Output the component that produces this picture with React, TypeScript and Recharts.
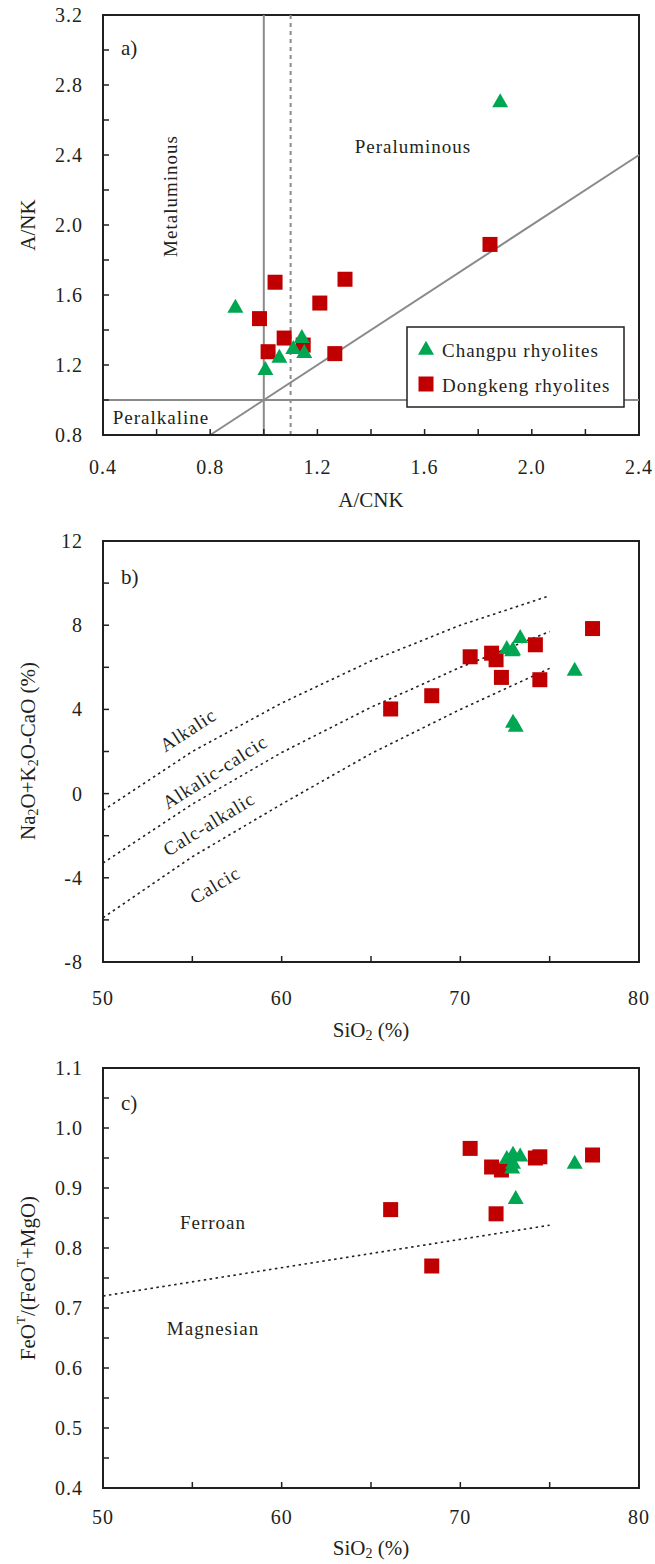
import React from 'react';
import {
  ScatterChart, Scatter, XAxis, YAxis, ReferenceLine, ReferenceArea,
} from 'recharts';

const FONT = '"Liberation Serif", "Times New Roman", serif';
const INK = '#231f20';
const GREY = '#8a8a8a';
const RED = '#c00000';
const GREEN = '#00a651';

// a) A/CNK – A/NK
const changpuACNK = [0.894, 1.006, 1.058, 1.11, 1.142, 1.151, 1.882];
const changpuANK = [1.525, 1.17, 1.24, 1.29, 1.352, 1.267, 2.7];
const dongkengACNK = [0.984, 1.016, 1.042, 1.076, 1.147, 1.209, 1.265, 1.303, 1.844];
const dongkengANK = [1.465, 1.276, 1.673, 1.354, 1.314, 1.554, 1.265, 1.69, 1.889];

// b) / c) SiO2 based diagrams
const changpuSiO2 = [72.6, 72.9, 72.95, 73.35, 76.4, 72.95, 73.1];
const changpuMALI = [6.85, 6.75, 6.8, 7.38, 5.82, 3.35, 3.16];
const changpuFe = [0.948, 0.932, 0.955, 0.952, 0.94, 0.94, 0.881];
const dongkengSiO2 = [66.1, 68.4, 70.55, 71.75, 72.0, 72.3, 74.2, 74.45, 77.4];
const dongkengMALI = [4.02, 4.65, 6.5, 6.67, 6.36, 5.52, 7.07, 5.41, 7.84];
const dongkengFe = [0.864, 0.77, 0.966, 0.935, 0.857, 0.93, 0.95, 0.952, 0.955];

// field boundaries
const maliSiO2 = [50, 55, 60, 65, 70, 75];
const alkalicLine = [-0.8, 2.0, 4.3, 6.3, 8.0, 9.4];
const alkaliCalcicLine = [-3.3, -0.5, 1.95, 4.1, 6.0, 7.7];
const calcAlkalicLine = [-5.9, -3.0, -0.5, 1.9, 4.0, 5.95];
const ferroanSiO2 = [50, 75];
const ferroanLine = [0.72, 0.838];

// axis ticks
const acnkTicks = [0.4, 0.6, 0.8, 1.0, 1.2, 1.4, 1.6, 1.8, 2.0, 2.2, 2.4];
const acnkLabels = [0.4, 0.8, 1.2, 1.6, 2.0, 2.4];
const ankTicks = [0.8, 1.0, 1.2, 1.4, 1.6, 1.8, 2.0, 2.2, 2.4, 2.6, 2.8, 3.0, 3.2];
const ankLabels = [0.8, 1.2, 1.6, 2.0, 2.4, 2.8, 3.2];
const sioTicks = [50, 55, 60, 65, 70, 75, 80];
const sioLabels = [50, 60, 70, 80];
const maliTicks = [-8, -6, -4, -2, 0, 2, 4, 6, 8, 10, 12];
const maliLabels = [-8, -4, 0, 4, 8, 12];
const feTicks = [0.4, 0.45, 0.5, 0.55, 0.6, 0.65, 0.7, 0.75, 0.8, 0.85, 0.9, 0.95, 1.0, 1.05, 1.1];
const feLabels = [0.4, 0.5, 0.6, 0.7, 0.8, 0.9, 1.0, 1.1];

const zip = (xs: number[], ys: number[]) => xs.map((x, i) => ({ x, y: ys[i] }));

const txt = { fontFamily: FONT, fill: INK };

function Square(props: any) {
  const { cx, cy } = props;
  return <rect x={cx - 7.5} y={cy - 7.5} width={15} height={15} fill={RED} />;
}

function Triangle(props: any) {
  const { cx, cy } = props;
  return (
    <polygon
      points={`${cx},${cy - 9.3} ${cx - 8},${cy + 4.7} ${cx + 8},${cy + 4.7}`}
      fill={GREEN}
    />
  );
}

const NoDot = () => <g />;

function makeTick(labels: number[], horizontal: boolean, digits: number) {
  return (props: any) => {
    const { x, y, payload } = props;
    const v = payload.value as number;
    if (!labels.some((m) => Math.abs(m - v) < 1e-6)) return <g />;
    return (
      <text
        x={x}
        y={y}
        textAnchor={horizontal ? 'middle' : 'end'}
        dominantBaseline="central"
        fontSize={20}
        letterSpacing={1}
        {...txt}
      >
        {v.toFixed(digits)}
      </text>
    );
  };
}

const axisLine = { stroke: INK, strokeWidth: 2 };
const tickLine = { stroke: INK, strokeWidth: 1.5 };

function PanelA() {
  return (
    <div style={{ position: 'relative', width: 655, height: 526 }}>
      <ScatterChart width={655} height={526} margin={{ top: 15, right: 16, bottom: 51, left: 43 }}>
        <XAxis
          type="number" dataKey="x" domain={[0.4, 2.4]} ticks={acnkTicks}
          height={40} tickSize={-6} tickMargin={38} axisLine={axisLine} tickLine={tickLine}
          tick={makeTick(acnkLabels, true, 1)} allowDataOverflow interval={0}
        />
        <YAxis
          type="number" dataKey="y" domain={[0.8, 3.2]} ticks={ankTicks}
          width={60} tickSize={-6} tickMargin={26} axisLine={axisLine} tickLine={tickLine}
          tick={makeTick(ankLabels, false, 1)} allowDataOverflow interval={0}
        />
        <ReferenceArea x1={0.4} x2={2.4} y1={0.8} y2={3.2} fill="none" stroke={INK} strokeWidth={2} />
        <ReferenceLine x={1.0} stroke={GREY} strokeWidth={2} />
        <ReferenceLine x={1.1} stroke={GREY} strokeWidth={2} strokeDasharray="4 4" />
        <ReferenceLine y={1.0} stroke={GREY} strokeWidth={2} />
        <ReferenceLine segment={[{ x: 0.8, y: 0.8 }, { x: 2.4, y: 2.4 }]} stroke={GREY} strokeWidth={2} />
        <Scatter data={zip(dongkengACNK, dongkengANK)} shape={Square} isAnimationActive={false} />
        <Scatter data={zip(changpuACNK, changpuANK)} shape={Triangle} isAnimationActive={false} />

        <text x={121} y={48} fontSize={21} dominantBaseline="central" {...txt}>a)</text>
        <text x={413} y={146} fontSize={19} letterSpacing={1} textAnchor="middle" dominantBaseline="central" {...txt}>Peraluminous</text>
        <text x={170} y={196} fontSize={19} letterSpacing={1} textAnchor="middle" dominantBaseline="central"
          transform="rotate(-90, 170, 196)" {...txt}>Metaluminous</text>
        <text x={161} y={417} fontSize={19} letterSpacing={1} textAnchor="middle" dominantBaseline="central" {...txt}>Peralkaline</text>
        <text x={28} y={225} fontSize={21} textAnchor="middle" dominantBaseline="central"
          transform="rotate(-90, 28, 225)" {...txt}>A/NK</text>
        <text x={371} y={500} fontSize={21} textAnchor="middle" dominantBaseline="central" {...txt}>A/CNK</text>
      </ScatterChart>

      {/* legend box sits over the A/NK = 1 line */}
      <svg
        width={219} height={82}
        style={{ position: 'absolute', left: 406, top: 326 }}
      >
        <rect x={1} y={1} width={217} height={80} fill="#fff" stroke={INK} strokeWidth={1.5} />
        <Triangle cx={20} cy={24} />
        <Square cx={20} cy={58} />
        <text x={36} y={24} fontSize={19} letterSpacing={1} dominantBaseline="central" {...txt}>Changpu rhyolites</text>
        <text x={36} y={59} fontSize={19} letterSpacing={1} dominantBaseline="central" {...txt}>Dongkeng rhyolites</text>
      </svg>
    </div>
  );
}

const dotted = { stroke: INK, strokeWidth: 1.6, strokeDasharray: '2.5 3.5' };

function SiO2Title({ y }: { y: number }) {
  return (
    <text x={371} y={y} fontSize={21} textAnchor="middle" dominantBaseline="central" {...txt}>
      SiO<tspan dy={5} fontSize={14}>2</tspan><tspan dy={-5}> (%)</tspan>
    </text>
  );
}

function PanelB() {
  const fieldLabel = (label: string, x: number, y: number, angle: number) => (
    <text x={x} y={y} fontSize={19} letterSpacing={1} textAnchor="middle" dominantBaseline="central"
      transform={`rotate(${angle}, ${x}, ${y})`} {...txt}>{label}</text>
  );
  return (
    <ScatterChart width={655} height={526} margin={{ top: 15, right: 16, bottom: 50, left: 43 }}>
      <XAxis
        type="number" dataKey="x" domain={[50, 80]} ticks={sioTicks}
        height={40} tickSize={-6} tickMargin={42} axisLine={axisLine} tickLine={tickLine}
        tick={makeTick(sioLabels, true, 0)} allowDataOverflow interval={0}
      />
      <YAxis
        type="number" dataKey="y" domain={[-8, 12]} ticks={maliTicks}
        width={60} tickSize={-6} tickMargin={26} axisLine={axisLine} tickLine={tickLine}
        tick={makeTick(maliLabels, false, 0)} allowDataOverflow interval={0}
      />
      <ReferenceArea x1={50} x2={80} y1={-8} y2={12} fill="none" stroke={INK} strokeWidth={2} />
      <Scatter data={zip(maliSiO2, alkalicLine)} line={dotted} shape={NoDot} isAnimationActive={false} />
      <Scatter data={zip(maliSiO2, alkaliCalcicLine)} line={dotted} shape={NoDot} isAnimationActive={false} />
      <Scatter data={zip(maliSiO2, calcAlkalicLine)} line={dotted} shape={NoDot} isAnimationActive={false} />
      <Scatter data={zip(dongkengSiO2, dongkengMALI)} shape={Square} isAnimationActive={false} />
      <Scatter data={zip(changpuSiO2, changpuMALI)} shape={Triangle} isAnimationActive={false} />

      <text x={121} y={51} fontSize={21} dominantBaseline="central" {...txt}>b)</text>
      {fieldLabel('Alkalic', 188, 204, -33)}
      {fieldLabel('Alkalic-calcic', 215, 246, -32.5)}
      {fieldLabel('Calc-alkalic', 209, 298, -31.5)}
      {fieldLabel('Calcic', 215, 359, -31)}
      <text x={28} y={225} fontSize={21} textAnchor="middle" dominantBaseline="central"
        transform="rotate(-90, 28, 225)" {...txt}>
        Na<tspan dy={5} fontSize={14}>2</tspan><tspan dy={-5}>O+K</tspan>
        <tspan dy={5} fontSize={14}>2</tspan><tspan dy={-5}>O-CaO (%)</tspan>
      </text>
      <SiO2Title y={504} />
    </ScatterChart>
  );
}

function PanelC() {
  return (
    <ScatterChart width={655} height={512} margin={{ top: 16, right: 16, bottom: 36, left: 43 }}>
      <XAxis
        type="number" dataKey="x" domain={[50, 80]} ticks={sioTicks}
        height={40} tickSize={-6} tickMargin={35} axisLine={axisLine} tickLine={tickLine}
        tick={makeTick(sioLabels, true, 0)} allowDataOverflow interval={0}
      />
      <YAxis
        type="number" dataKey="y" domain={[0.4, 1.1]} ticks={feTicks}
        width={60} tickSize={-6} tickMargin={26} axisLine={axisLine} tickLine={tickLine}
        tick={makeTick(feLabels, false, 1)} allowDataOverflow interval={0}
      />
      <ReferenceArea x1={50} x2={80} y1={0.4} y2={1.1} fill="none" stroke={INK} strokeWidth={2} />
      <Scatter data={zip(ferroanSiO2, ferroanLine)} line={dotted} shape={NoDot} isAnimationActive={false} />
      <Scatter data={zip(dongkengSiO2, dongkengFe)} shape={Square} isAnimationActive={false} />
      <Scatter data={zip(changpuSiO2, changpuFe)} shape={Triangle} isAnimationActive={false} />

      <text x={121} y={51} fontSize={21} dominantBaseline="central" {...txt}>c)</text>
      <text x={213} y={170} fontSize={19} letterSpacing={1} textAnchor="middle" dominantBaseline="central" {...txt}>Ferroan</text>
      <text x={213} y={276} fontSize={19} letterSpacing={1} textAnchor="middle" dominantBaseline="central" {...txt}>Magnesian</text>
      <text x={28} y={226} fontSize={21} textAnchor="middle" dominantBaseline="central"
        transform="rotate(-90, 28, 226)" {...txt}>
        FeO<tspan dy={-8} fontSize={13}>T</tspan><tspan dy={8}>/(FeO</tspan>
        <tspan dy={-8} fontSize={13}>T</tspan><tspan dy={8}>+MgO)</tspan>
      </text>
      <SiO2Title y={496} />
    </ScatterChart>
  );
}

export default function App() {
  return (
    <div style={{ position: 'absolute', left: 0, top: 0, width: 655, height: 1564, background: '#fff' }}>
      <div style={{ position: 'absolute', left: 0, top: 0 }}><PanelA /></div>
      <div style={{ position: 'absolute', left: 0, top: 526 }}><PanelB /></div>
      <div style={{ position: 'absolute', left: 0, top: 1052 }}><PanelC /></div>
    </div>
  );
}
